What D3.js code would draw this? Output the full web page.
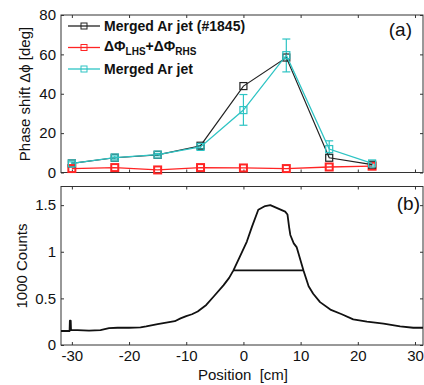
<!DOCTYPE html>
<html>
<head>
<meta charset="utf-8">
<script src="https://cdn.jsdelivr.net/npm/d3@7"></script>
<style>
  body { margin: 0; background: #fff; }
  svg { font-family: Arial, "Liberation Sans", sans-serif; }
</style>
</head>
<body>
<div id="chart"></div>
<script>
// phase shift panel (a)
const phasePos = [-30, -22.5, -15, -7.5, 0, 7.5, 15, 22.5];
const mergedShot = [4.6, 7.5, 9.0, 13.6, 43.9, 58.4, 7.5, 4.0];
const lhsRhs = [2.0, 2.5, 1.3, 2.5, 2.3, 2.0, 2.8, 3.2];
const mergedAvg = [4.6, 7.6, 9.1, 13.0, 31.7, 59.6, 11.9, 4.6];
const mergedErrLo = [0.8, 0.8, 0.6, 0.8, 7.7, 8.5, 2.8, 0.8];
const mergedErrHi = [0.8, 0.8, 0.6, 0.8, 7.9, 8.2, 4.2, 0.8];
const phaseTicks = [0, 20, 40, 60, 80];
const posTicks = [-30, -20, -10, 0, 10, 20, 30];

// counts panel (b)
const countPos = [-31.9, -31, -30.4, -30.35, -30.2, -30.15, -29, -27, -25, -23.5, -22, -20, -18, -17, -15, -13, -12, -11, -10, -9, -8,
  -6.5, -5.2, -3.5, -2.5, -1.75, -0.6, 0.6, 1.5, 2.6, 3.8, 4.7, 5.8, 7.3, 7.7, 8.0, 8.2, 8.8, 9.3, 10.5, 11.4, 12.2, 13.4,
  15.2, 17.2, 19.2, 21.6, 24.5, 27.4, 29.7, 31.4];
const countVal = [0.15, 0.15, 0.15, 0.26, 0.26, 0.16, 0.16, 0.155, 0.16, 0.18, 0.185, 0.185, 0.19, 0.2, 0.225, 0.245, 0.255, 0.285, 0.31, 0.33, 0.36,
  0.43, 0.52, 0.64, 0.72, 0.80, 0.95, 1.11, 1.27, 1.45, 1.49, 1.50, 1.47, 1.43, 1.40, 1.26, 1.18, 1.09, 1.05, 0.80, 0.63, 0.55, 0.46,
  0.38, 0.33, 0.275, 0.25, 0.23, 0.20, 0.185, 0.185];
const countTicks = [0, 0.5, 1, 1.5];
const fwhm = { left: -1.75, right: 10.5, level: 0.80 };

const W = 424, H = 385;
const colBlack = '#222', colRed = '#ff2424', colCyan = '#2ec4c4';

const svg = d3.select('#chart').append('svg').attr('width', W).attr('height', H);

const x = d3.scaleLinear().domain([-31.9, 31.4]).range([61, 423]);
const yA = d3.scaleLinear().domain([0, 80]).range([172.5, 15]);
const yB = d3.scaleLinear().domain([0, 1.7]).range([345, 186.5]);

// draw a boxed MATLAB-like axes frame with inward ticks
function frame(y, yTicks, yFmt, showXLabels) {
  const g = svg.append('g');
  const [x0, x1] = x.range();
  const [yb, yt] = y.range();
  g.append('rect').attr('x', x0).attr('y', yt).attr('width', x1 - x0).attr('height', yb - yt)
      .attr('fill', 'none').attr('stroke', '#333').attr('stroke-width', 1);
  const bottom = g.append('g').attr('transform', `translate(0,${yb})`)
      .call(d3.axisBottom(x).tickValues(posTicks).tickSize(-3).tickPadding(5)
        .tickFormat(showXLabels ? d => d : () => ''));
  g.append('g').attr('transform', `translate(0,${yt})`)
      .call(d3.axisTop(x).tickValues(posTicks).tickSize(-3).tickFormat(() => ''));
  const left = g.append('g').attr('transform', `translate(${x0},0)`)
      .call(d3.axisLeft(y).tickValues(yTicks).tickSize(-3).tickPadding(5).tickFormat(yFmt));
  g.append('g').attr('transform', `translate(${x1},0)`)
      .call(d3.axisRight(y).tickValues(yTicks).tickSize(-3).tickFormat(() => ''));
  g.selectAll('.domain').remove();
  g.selectAll('.tick line').attr('stroke', '#333');
  g.selectAll('.tick text').attr('font-size', 15).attr('fill', '#111')
      .attr('font-family', 'Arial, "Liberation Sans", sans-serif');
  return g;
}

// ---- panel (a)
frame(yA, phaseTicks, d => d, false);

const lineA = (vals) => d3.line().x((d, i) => x(phasePos[i])).y(d => yA(d))(vals);

// error bars for merged jet
const eb = svg.append('g').attr('stroke', colCyan).attr('stroke-width', 1.2);
mergedAvg.forEach((v, i) => {
  const cx = x(phasePos[i]);
  const lo = yA(v - mergedErrLo[i]), hi = yA(v + mergedErrHi[i]);
  eb.append('line').attr('x1', cx).attr('x2', cx).attr('y1', lo).attr('y2', hi);
  eb.append('line').attr('x1', cx - 4).attr('x2', cx + 4).attr('y1', lo).attr('y2', lo);
  eb.append('line').attr('x1', cx - 4).attr('x2', cx + 4).attr('y1', hi).attr('y2', hi);
});

const seriesA = [
  { vals: lhsRhs, color: colRed, w: 1.3 },
  { vals: mergedShot, color: colBlack, w: 1.2 },
  { vals: mergedAvg, color: colCyan, w: 1.3 }
];
seriesA.forEach(s => {
  svg.append('path').attr('d', lineA(s.vals)).attr('fill', 'none')
      .attr('stroke', s.color).attr('stroke-width', s.w);
  svg.append('g').selectAll('rect').data(s.vals).enter().append('rect')
      .attr('x', (d, i) => x(phasePos[i]) - 3.5).attr('y', d => yA(d) - 3.5)
      .attr('width', 7).attr('height', 7)
      .attr('fill', 'none').attr('stroke', s.color).attr('stroke-width', s.color === colRed ? 2 : 1.2);
});

// legend
const leg = svg.append('g').attr('font-weight', 'bold').attr('font-size', 14).attr('fill', '#111');
const legRows = [
  { y: 26, color: colBlack },
  { y: 47.5, color: colRed },
  { y: 69, color: colCyan }
];
legRows.forEach(r => {
  leg.append('line').attr('x1', 68).attr('x2', 100).attr('y1', r.y).attr('y2', r.y)
      .attr('stroke', r.color).attr('stroke-width', 1.3);
  leg.append('rect').attr('x', 81).attr('y', r.y - 3).attr('width', 6).attr('height', 6)
      .attr('fill', 'none').attr('stroke', r.color).attr('stroke-width', 1);
});
leg.append('text').attr('x', 104).attr('y', 31).text('Merged Ar jet (#1845)');
const t2 = leg.append('text').attr('x', 104).attr('y', 51);
t2.append('tspan').text('ΔΦ');
t2.append('tspan').attr('font-size', 10).attr('dy', 4).text('LHS');
t2.append('tspan').attr('dy', -4).text('+ΔΦ');
t2.append('tspan').attr('font-size', 10).attr('dy', 4).text('RHS');
leg.append('text').attr('x', 104).attr('y', 74).text('Merged Ar jet');

svg.append('text').attr('x', 412).attr('y', 36).attr('text-anchor', 'end')
    .attr('font-size', 19).attr('fill', '#111').text('(a)');
svg.append('text').attr('transform', 'translate(30,94) rotate(-90)').attr('text-anchor', 'middle')
    .attr('font-size', 15).attr('fill', '#111').text('Phase shift Δϕ [deg]');

// ---- panel (b)
frame(yB, countTicks, d => d, true);

svg.append('path')
    .attr('d', d3.line().x((d, i) => x(countPos[i])).y(d => yB(d))(countVal))
    .attr('fill', 'none').attr('stroke', '#111').attr('stroke-width', 1.8).attr('stroke-linejoin', 'round');
svg.append('line').attr('x1', x(fwhm.left)).attr('x2', x(fwhm.right))
    .attr('y1', yB(fwhm.level)).attr('y2', yB(fwhm.level))
    .attr('stroke', '#111').attr('stroke-width', 1.6);

svg.append('text').attr('x', 420).attr('y', 210).attr('text-anchor', 'end')
    .attr('font-size', 19).attr('fill', '#111').text('(b)');
svg.append('text').attr('transform', 'translate(27,266) rotate(-90)').attr('text-anchor', 'middle')
    .attr('font-size', 15).attr('fill', '#111').text('1000 Counts');
svg.append('text').attr('x', 243).attr('y', 380).attr('text-anchor', 'middle')
    .attr('font-size', 15).attr('fill', '#111').attr('xml:space', 'preserve').text('Position  [cm]');
</script>
</body>
</html>
